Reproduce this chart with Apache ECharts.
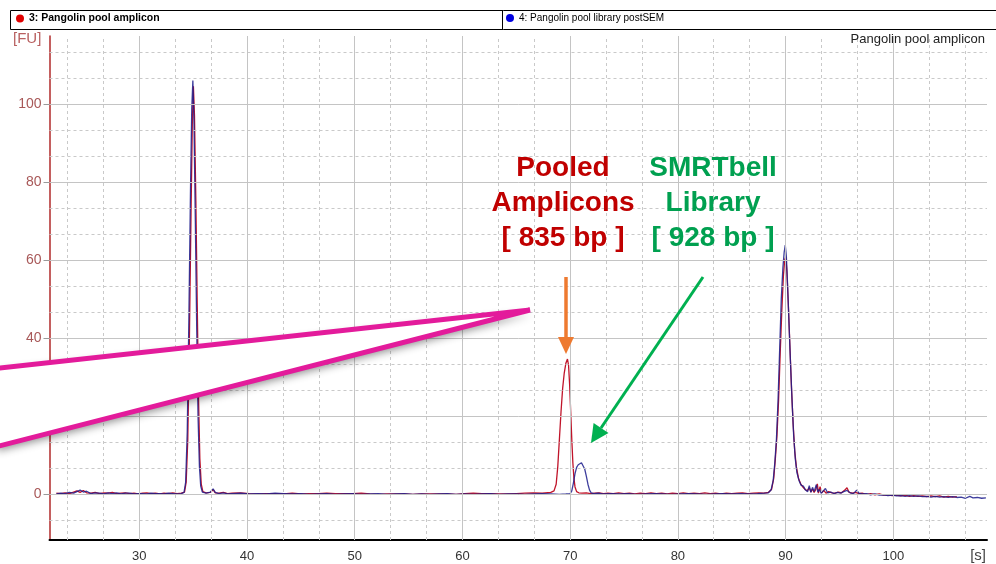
<!DOCTYPE html>
<html>
<head>
<meta charset="utf-8">
<script src="https://cdn.jsdelivr.net/npm/echarts@6/dist/echarts.min.js"></script>
<style>
html,body{margin:0;padding:0;background:#fff;}
#chart{width:996px;height:564px;}
</style>
</head>
<body>
<div id="chart"></div>
<script>
// ---- Data (time [s], fluorescence [FU]) ----
var seriesNames = ['3: Pangolin pool amplicon', '4: Pangolin pool library postSEM'];
var chartTitle = 'Pangolin pool amplicon';
var xTickLabels = [30, 40, 50, 60, 70, 80, 90, 100];
var yTickLabels = [0, 20, 40, 60, 80, 100];

var ampliconSeries = [
 [22.3,0.2],[22.7,0.1],[23.1,0.3],[23.5,0.1],[23.9,0.5],[24.2,0.8],[24.5,0.4],[24.8,0.9],[25.1,0.3],[25.5,0.2],
 [25.9,0.4],[26.3,0.1],[26.7,0.3],[27.1,0.2],[27.5,0.4],[27.9,0.1],[28.3,0.2],[28.7,0.3],[29.1,0.1],[29.5,0.2],
 [29.9,0.0],[30.3,0.2],[30.7,0.3],[31.1,0.1],[31.5,0.2],[31.9,0.0],[32.3,0.2],[32.7,0.1],[33.1,0.3],[33.5,0.1],
 [33.9,0.2],[34.2,0.5],[34.35,3],[34.5,14],[34.65,40],[34.8,72],[34.92,95],[35.02,104.5],[35.12,97],[35.25,75],
 [35.38,48],[35.5,24],[35.62,9],[35.75,2.5],[35.9,0.6],[36.2,0.3],[36.6,0.4],[36.85,1.1],[37.05,0.3],[37.4,0.2],
 [37.8,0.4],[38.2,0.1],[38.6,0.2],[39.4,0.3],[40.2,0.1],[41.0,0.0],[41.8,0.1],[42.6,0.1],[43.4,0.0],[44.2,0.2],
 [45.0,0.0],[45.8,0.1],[46.6,0.1],[47.4,0.2],[48.2,0.1],[49.0,0.1],[49.8,0.1],[50.6,0.2],[51.4,0.0],[52.2,-0.1],
 [53.0,0.0],[53.8,0.0],[54.6,0.0],[55.4,-0.1],[56.2,0.0],[57.0,0.0],[57.8,0.0],[58.6,0.0],[59.4,-0.1],[60.2,0.1],
 [61.0,0.2],[61.8,0.1],[62.6,0.1],[63.4,0.0],[64.2,0.0],[65.0,0.1],[65.8,0.2],[66.6,0.3],[67.4,0.2],[68.2,0.4],
 [68.5,0.8],[68.7,2.5],[68.85,7],[69.0,14],[69.15,21],[69.3,27],[69.45,31],[69.6,33.5],[69.75,34.6],[69.85,33],
 [69.95,28],[70.05,21],[70.15,14],[70.25,8],[70.35,4],[70.45,1.8],[70.6,0.6],[70.8,0.3],[71.1,0.2],[71.5,0.3],
 [71.9,0.1],[72.3,0.2],[72.7,0.3],[73.1,0.1],[73.5,0.2],[74.0,0.1],[74.5,0.3],[75.0,0.1],[75.5,0.2],[76.0,0.0],
 [76.5,0.2],[77.0,0.1],[77.5,0.3],[78.0,0.1],[78.5,0.2],[79.0,0.0],[79.5,0.2],[80.0,0.1],[80.5,0.3],[81.0,0.1],
 [81.5,0.2],[82.0,0.1],[82.5,0.3],[83.0,0.1],[83.5,0.2],[84.0,0.0],[84.5,0.2],[85.0,0.1],[85.5,0.2],[86.0,0.3],
 [86.5,0.1],[87.0,0.2],[87.5,0.3],[88.0,0.2],[88.4,0.4],[88.7,1.2],[88.9,4],[89.05,9],[89.2,15],[89.35,24],
 [89.5,36],[89.65,47],[89.8,56],[89.92,60],[90.02,60.8],[90.12,57],[90.25,49],[90.4,38],[90.55,27],[90.7,18],
 [90.85,11],[91.0,7],[91.2,4],[91.4,2.6],[91.6,1.8],[91.8,1.2],[92.0,0.8],[92.2,1.6],[92.35,0.5],[92.5,1.3],
 [92.65,0.4],[92.8,1.1],[92.95,2.6],[93.05,0.2],[93.2,1.9],[93.35,0.3],[93.55,0.9],[93.75,0.2],[94.0,0.6],[94.3,0.3],
 [94.6,0.2],[94.9,0.5],[95.2,0.3],[95.5,1.0],[95.7,1.6],[95.9,0.4],[96.2,0.2],[96.5,0.4],[96.8,0.1],[97.1,0.2],
 [97.5,-0.1],[97.9,0.1],[98.3,-0.2],[98.7,0.0],[99.1,-0.3],[99.5,-0.2],[99.9,-0.4],[100.3,-0.3],[100.7,-0.5],[101.1,-0.3],
 [101.5,-0.6],[101.9,-0.4],[102.3,-0.6],[102.7,-0.5],[103.1,-0.7],[103.5,-0.5],[103.9,-0.7],[104.3,-0.5],[104.7,-0.8],[105.1,-0.6],
 [105.5,-0.8],[105.9,-0.7]
];

var librarySeries = [
 [22.3,0.0],[22.7,0.2],[23.1,0.1],[23.5,0.4],[23.9,0.2],[24.2,0.6],[24.5,1.0],[24.8,0.5],[25.1,0.7],[25.5,0.1],
 [25.9,0.3],[26.3,0.2],[26.7,0.0],[27.1,0.3],[27.5,0.1],[27.9,0.3],[28.3,0.0],[28.7,0.2],[29.1,0.2],[29.5,0.0],
 [29.9,0.1],[30.3,0.1],[30.7,0.0],[31.1,0.2],[31.5,0.1],[31.9,0.1],[32.3,0.0],[32.7,0.2],[33.1,0.1],[33.5,0.0],
 [33.9,0.1],[34.15,0.4],[34.3,3],[34.45,16],[34.6,45],[34.75,78],[34.87,99],[34.97,106],[35.07,96],[35.2,70],
 [35.33,42],[35.45,20],[35.58,7],[35.7,2],[35.85,0.5],[36.2,0.2],[36.6,0.5],[36.85,1.3],[37.05,0.4],[37.4,0.1],
 [37.8,0.3],[38.2,0.0],[38.6,0.1],[39.4,0.2],[40.2,0.0],[41.0,0.1],[41.8,0.0],[42.6,0.2],[43.4,0.1],[44.2,0.0],
 [45.0,0.1],[45.8,-0.1],[46.6,0.0],[47.4,0.1],[48.2,-0.1],[49.0,0.0],[49.8,0.1],[50.6,-0.1],[51.4,0.0],[52.2,0.1],
 [53.0,-0.1],[53.8,0.0],[54.6,0.1],[55.4,-0.1],[56.2,0.0],[57.0,-0.1],[57.8,0.0],[58.6,0.1],[59.4,-0.1],[60.2,0.0],
 [61.0,-0.1],[61.8,0.0],[62.6,0.1],[63.4,-0.1],[64.2,0.0],[65.0,0.0],[65.8,-0.1],[66.6,0.0],[67.4,0.1],[68.2,0.0],
 [69.0,-0.1],[69.6,0.0],[70.0,0.1],[70.15,0.8],[70.3,2.8],[70.45,5.2],[70.6,6.8],[70.75,7.5],[70.9,7.9],[71.05,8.0],
 [71.2,7.6],[71.35,6.4],[71.5,4.6],[71.65,2.5],[71.8,1.0],[71.95,0.3],[72.2,0.1],[72.6,0.2],[73.0,0.0],[73.8,0.1],
 [74.6,0.0],[75.4,0.1],[76.2,-0.1],[77.0,0.0],[77.8,0.1],[78.6,0.0],[79.4,-0.1],[80.2,0.0],[81.0,0.1],[81.8,0.0],
 [82.6,-0.1],[83.4,0.0],[84.2,0.1],[85.0,0.0],[85.8,0.1],[86.6,0.0],[87.4,0.1],[88.0,0.2],[88.4,0.3],[88.65,1.0],
 [88.85,3.5],[89.0,8],[89.15,14],[89.3,24],[89.45,37],[89.6,50],[89.75,58],[89.87,62],[89.97,63.8],[90.07,61],
 [90.18,54],[90.3,45],[90.45,34],[90.6,24],[90.75,15],[90.9,9],[91.05,5.5],[91.25,3.4],[91.45,2.2],[91.65,2.0],
 [91.85,1.0],[92.05,0.6],[92.2,2.1],[92.35,0.4],[92.5,1.7],[92.65,0.6],[92.85,2.4],[93.0,0.5],[93.15,1.2],[93.3,0.2],
 [93.5,0.8],[93.7,1.4],[93.9,0.3],[94.2,0.5],[94.5,0.1],[94.8,0.4],[95.1,0.2],[95.4,0.6],[95.7,0.9],[96.0,0.3],
 [96.3,0.1],[96.6,1.0],[96.8,0.2],[97.1,0.0],[97.5,0.1],[97.9,-0.2],[98.3,0.0],[98.7,-0.3],[99.1,-0.2],[99.5,-0.4],
 [99.9,-0.3],[100.3,-0.5],[100.7,-0.4],[101.1,-0.6],[101.5,-0.4],[101.9,-0.6],[102.3,-0.5],[102.7,-0.7],[103.1,-0.6],[103.5,-0.8],
 [103.9,-0.6],[104.3,-0.8],[104.7,-0.7],[105.1,-0.9],[105.5,-0.7],[105.9,-0.9],[106.3,-0.8],[106.7,-1.1],[107.1,-0.6],[107.4,-1.0],
 [107.8,-0.9],[108.2,-1.1],[108.6,-1.0]
];

// ---- Axis extents ----
var xMin = 21.66, xMax = 108.7;
var yMin = -11.8, yMax = 117.4;

// gridline positions (major every 10 / 20, minor thirds in between)
var xGridMajor = [], xGridMinor = [], yGridMajor = [], yGridMinor = [];
for (var k = 6; k * 10 / 3 < xMax; k++) {
  var v = k * 10 / 3;
  if (v <= xMin) continue;
  if (k % 3 === 0) xGridMajor.push(v); else xGridMinor.push(v);
}
for (var j = -1; j * 20 / 3 < yMax; j++) {
  var w = j * 20 / 3;
  if (w <= yMin) continue;
  if (j % 3 === 0) yGridMajor.push(w); else yGridMinor.push(w);
}
var gridLines = [];
xGridMinor.forEach(function (v) { gridLines.push({ xAxis: v, lineStyle: { type: [3, 3], color: '#c9c9c9', width: 1 } }); });
yGridMinor.forEach(function (v) { gridLines.push({ yAxis: v, lineStyle: { type: [3, 3], color: '#c9c9c9', width: 1 } }); });
xGridMajor.forEach(function (v) { gridLines.push({ xAxis: v, lineStyle: { type: 'solid', color: '#c4c4c4', width: 1 } }); });
yGridMajor.forEach(function (v) { gridLines.push({ yAxis: v, lineStyle: { type: 'solid', color: '#c4c4c4', width: 1 } }); });

var FONT = 'Liberation Sans, Arial, sans-serif';

var chart = echarts.init(document.getElementById('chart'), null, { renderer: 'canvas' });
chart.setOption({
  animation: false,
  backgroundColor: '#ffffff',
  grid: { left: 49.5, right: 9, top: 36, bottom: 24, containLabel: false },
  legend: [
    { data: [{ name: seriesNames[0], itemStyle: { color: '#e00000' } }], left: 16, top: 13, padding: 0,
      icon: 'circle', itemWidth: 8, itemHeight: 8, selectedMode: false,
      textStyle: { fontSize: 10.5, fontWeight: 'bold', color: '#000', fontFamily: FONT } },
    { data: [{ name: seriesNames[1], itemStyle: { color: '#0000e0' } }], left: 506, top: 13, padding: 0,
      icon: 'circle', itemWidth: 8, itemHeight: 8, selectedMode: false,
      textStyle: { fontSize: 10, color: '#000', fontFamily: FONT } }
  ],
  xAxis: {
    type: 'value', min: xMin, max: xMax, splitNumber: 8,
    axisLine: { show: true, onZero: false, lineStyle: { color: '#000', width: 2 } },
    axisTick: { show: true, inside: true, length: 5, lineStyle: { color: '#555' }, customValues: xTickLabels },
    axisLabel: { color: '#333', fontSize: 13, fontFamily: FONT, margin: 10, customValues: xTickLabels },
    splitLine: { show: false }
  },
  yAxis: {
    type: 'value', min: yMin, max: yMax, splitNumber: 6,
    axisLine: { show: true, onZero: false, lineStyle: { color: '#b02a2a', width: 1.5 } },
    axisTick: { show: true, length: 6, lineStyle: { color: '#999' }, customValues: yTickLabels },
    axisLabel: { color: '#a85858', fontSize: 14, fontFamily: FONT, margin: 8, customValues: yTickLabels },
    splitLine: { show: false }
  },
  series: [
    {
      name: 'grid', type: 'line', data: [], z: 1, silent: true,
      markLine: { silent: true, symbol: 'none', label: { show: false }, animation: false, data: gridLines }
    },
    {
      name: seriesNames[0], type: 'line', data: ampliconSeries, z: 3, showSymbol: false, smooth: false,
      itemStyle: { color: '#e00000' },
      lineStyle: { color: '#c0142a', width: 1.3 }
    },
    {
      name: seriesNames[1], type: 'line', data: librarySeries, z: 4, showSymbol: false, smooth: false,
      itemStyle: { color: '#0000e0' },
      lineStyle: { color: '#1c1c8c', width: 1.3, opacity: 0.85 }
    }
  ],
  graphic: [
    // legend box
    { type: 'rect', z: 50, shape: { x: 10.5, y: 10.5, width: 990, height: 19 },
      style: { fill: 'none', stroke: '#000', lineWidth: 1 } },
    { type: 'line', z: 50, shape: { x1: 502.5, y1: 10.5, x2: 502.5, y2: 29.5 },
      style: { stroke: '#000', lineWidth: 1 } },
    { type: 'text', z: 50, style: { text: '[FU]', x: 13, y: 39, verticalAlign: 'middle', fontSize: 15,
      fontFamily: FONT, fill: '#b86060' } },
    { type: 'text', z: 50, style: { text: chartTitle, x: 985, y: 39, align: 'right', verticalAlign: 'middle',
      fontSize: 13, fontFamily: FONT, fill: '#222' } },
    { type: 'text', z: 50, style: { text: '[s]', x: 986, y: 556, align: 'right', verticalAlign: 'middle',
      fontSize: 15, fontFamily: FONT, fill: '#444' } },
    // magenta wedge callout
    { type: 'polygon', z: 100, shape: { points: [[-5, 368], [530, 310], [-5, 447]] },
      style: { fill: '#ffffff', shadowBlur: 8, shadowColor: 'rgba(0,0,0,0.45)', shadowOffsetX: 2, shadowOffsetY: 4 } },
    { type: 'polyline', z: 101, shape: { points: [[-5, 368.5], [530, 310], [-5, 447]] },
      style: { stroke: '#e31b9b', lineWidth: 5, fill: 'none', lineJoin: 'miter' } },
    // annotation texts
    { type: 'text', z: 102, style: { text: 'Pooled\nAmplicons\n[ 835 bp ]', x: 563, y: 203, align: 'center',
      verticalAlign: 'middle', fontSize: 28, fontWeight: 'bold', fontFamily: FONT, lineHeight: 35, fill: '#c00000' } },
    { type: 'text', z: 102, style: { text: 'SMRTbell\nLibrary\n[ 928 bp ]', x: 713, y: 203, align: 'center',
      verticalAlign: 'middle', fontSize: 28, fontWeight: 'bold', fontFamily: FONT, lineHeight: 35, fill: '#00a050' } },
    // orange arrow
    { type: 'line', z: 102, shape: { x1: 566, y1: 277, x2: 566, y2: 340 },
      style: { stroke: '#ee7a30', lineWidth: 3.5 } },
    { type: 'polygon', z: 102, shape: { points: [[558, 337], [574, 337], [566, 354]] },
      style: { fill: '#ee7a30' } },
    // green arrow
    { type: 'line', z: 102, shape: { x1: 703, y1: 277, x2: 601, y2: 428 },
      style: { stroke: '#00b050', lineWidth: 3 } },
    { type: 'polygon', z: 102, shape: { points: [[608.5, 433.1], [593.6, 423.1], [591, 443]] },
      style: { fill: '#00b050' } }
  ]
});
</script>
</body>
</html>
